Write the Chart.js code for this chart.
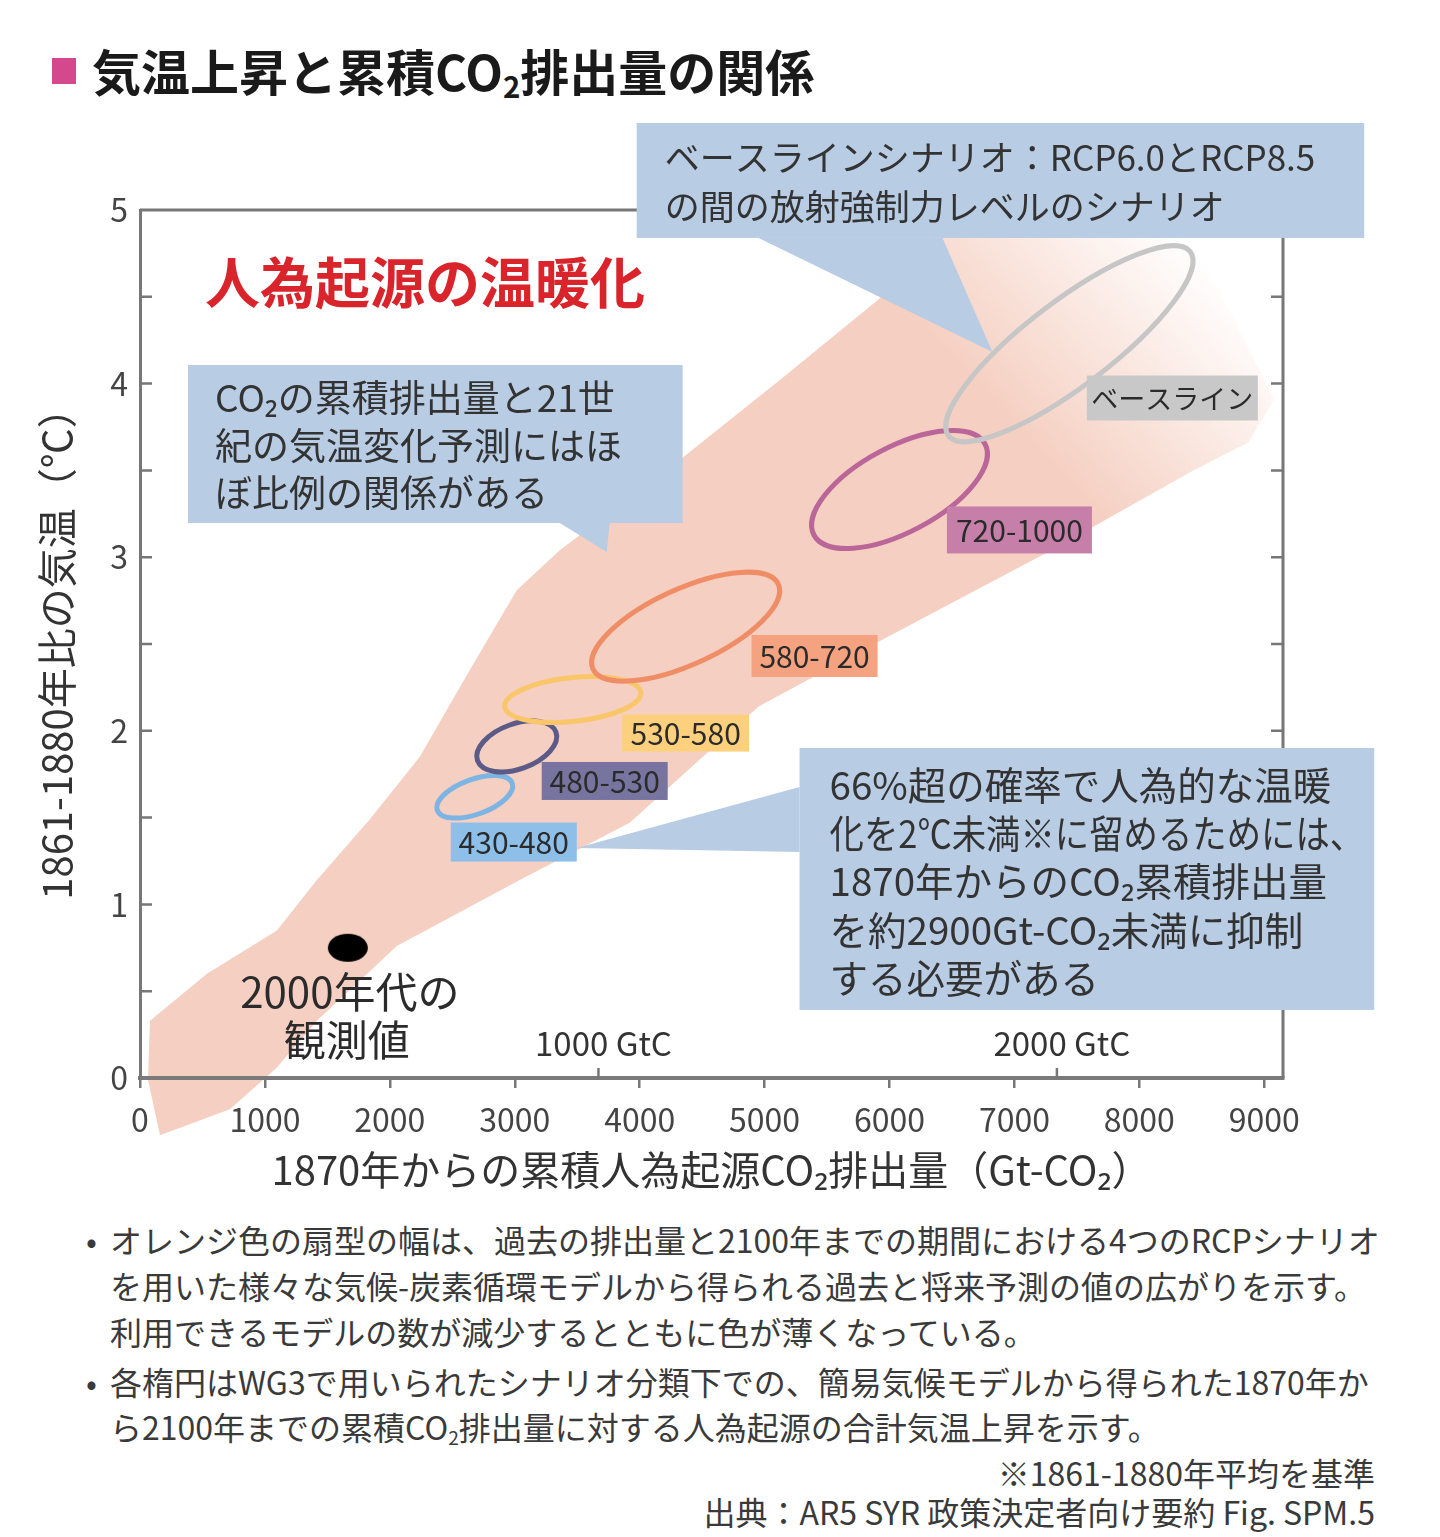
<!DOCTYPE html>
<html lang="ja">
<head>
<meta charset="UTF-8">
<title>気温上昇と累積CO2排出量の関係</title>
<script src="https://cdn.jsdelivr.net/npm/chart.js"></script>
<style>
  html, body { margin: 0; padding: 0; background: #fff; }
  body { width: 1440px; height: 1537px; position: relative; overflow: hidden;
         font-family: "Noto Sans CJK JP", "Noto Sans", sans-serif; color: #333; }
  #chart-wrap { position: absolute; left: 0; top: 0; width: 1440px; height: 1200px; }
  .title-mark { position: absolute; left: 52px; top: 58px; width: 24px; height: 26px; background: #d6488e; }
  .title { position: absolute; left: 92px; top: 44px; font-size: 49px; font-weight: bold; line-height: 52px; color: #1a1a1a; white-space: nowrap; }
  .note { position: absolute; font-size: 32px; line-height: 36px; color: #3a3a3a; white-space: nowrap; }
  sub { font-size: 0.6em; vertical-align: -0.25em; line-height: 0; }
</style>
</head>
<body>
  <div class="title-mark"></div>
  <div class="title">気温上昇と累積CO<sub>2</sub>排出量の関係</div>

  <div id="chart-wrap"><canvas id="chart"></canvas></div>

  <!-- 注記 -->
  <div class="note" style="left:86px;top:1221px">•</div>
  <div class="note" style="left:110px;top:1221px">オレンジ色の扇型の幅は、過去の排出量と2100年までの期間における4つのRCPシナリオ</div>
  <div class="note" style="left:110px;top:1267px">を用いた様々な気候-炭素循環モデルから得られる過去と将来予測の値の広がりを示す。</div>
  <div class="note" style="left:110px;top:1313px">利用できるモデルの数が減少するとともに色が薄くなっている。</div>
  <div class="note" style="left:86px;top:1363px">•</div>
  <div class="note" style="left:110px;top:1363px">各楕円はWG3で用いられたシナリオ分類下での、簡易気候モデルから得られた1870年か</div>
  <div class="note" style="left:110px;top:1408px">ら2100年までの累積CO<sub>2</sub>排出量に対する人為起源の合計気温上昇を示す。</div>
  <div class="note" style="right:65px;top:1454px">※1861-1880年平均を基準</div>
  <div class="note" style="right:65px;top:1493px">出典：AR5 SYR 政策決定者向け要約 Fig. SPM.5</div>

<script>
// 軸の目盛り
const co2Ticks = [0, 1000, 2000, 3000, 4000, 5000, 6000, 7000, 8000, 9000];
const tempTicks = [0, 1, 2, 3, 4, 5];
const gtcValues = [3670, 7340];
const gtcLabels = ['1000 GtC', '2000 GtC'];

// オレンジ色の扇型（外周、Gt-CO2 と ℃）
const plumeX = [160, 64, 80, 536, 1096, 1416, 1840, 2240, 2640, 3016, 3360, 3840, 4320, 5120, 5904, 6408, 6680,
                8320, 9080, 8872, 8432, 7296, 5904, 4952, 3920, 3040, 2056, 1416, 1096, 720];
const plumeY = [-0.33, -0.01, 0.33, 0.60, 0.85, 1.14, 1.49, 1.85, 2.35, 2.81, 3.04, 3.30, 3.56, 4.02, 4.48, 4.83, 4.99,
                4.99, 3.91, 3.66, 3.50, 3.04, 2.51, 2.14, 1.47, 1.14, 0.76, 0.33, 0.06, -0.18];

// 2000年代の観測値
const observedX = [1664];
const observedY = [0.75];

// シナリオ別の楕円（中心と長軸方向の広がり）
const scenarioNames = ['430-480', '480-530', '530-580', '580-720', '720-1000', 'ベースライン'];
const scenarioCO2Mid = [2680, 3016, 3464, 4368, 6080, 7440];
const scenarioTempMid = [1.62, 1.91, 2.18, 2.60, 3.39, 4.23];
const scenarioCO2Half = [300, 314, 544, 742, 685, 968];
const scenarioTempHalf = [0.078, 0.082, 0.041, 0.244, 0.262, 0.53];

const FONT = '"Noto Sans CJK JP", "Noto Sans", sans-serif';
Chart.defaults.font.family = FONT;

const ellipseStyle = {
  ratio: [0.44, 0.54, 0.32, 0.37, 0.44, 0.28],
  stroke: ['#7cb4e3', '#5c5b88', '#fac66a', '#ef8e66', '#bb6699', '#c6c6c6'],
  fill: ['#8dbfe9', '#77759f', '#fdd07e', '#f4a27f', '#c67fa8', '#c8c8c8'],
  tagAt: [[2992, 1.359], [3720, 1.711], [4368, 1.987], [5400, 2.431], [7040, 3.157], [8264, 3.917]],
  tagSize: [[126, 39], [126, 38], [127, 37], [126, 42], [145, 47], [171, 45]]
};

const plumeStyle = { rgb: '245, 207, 193', fadeFrom: [7300, 3.5], fadeTo: [8800, 4.5] };

const callouts = [
  { box: [3976, 9800, 4.839, 5.501], pointer: [[4952, 4.839], [6424, 4.839], [6824, 4.182]],
    lines: ['ベースラインシナリオ：RCP6.0とRCP8.5', 'の間の放射強制力レベルのシナリオ'],
    size: 35, pad: 28, first: 35, step: 49 },
  { box: [384, 4344, 3.197, 4.107], pointer: [[3360, 3.197], [3760, 3.197], [3736, 3.03]],
    lines: ['CO₂の累積排出量と21世', '紀の気温変化予測にはほ', 'ぼ比例の関係がある'],
    size: 37, pad: 27, first: 33, step: 47.5 },
  { box: [5280, 9880, 0.392, 1.901], pointer: [[5280, 1.676], [5280, 1.302], [3496, 1.325]],
    lines: ['66%超の確率で人為的な温暖', '化を2℃未満※に留めるためには、', '1870年からのCO₂累積排出量', 'を約2900Gt-CO₂未満に抑制', 'する必要がある'],
    size: 38.5, pad: 30, first: 37, step: 48.3 }
];

const notes = [
  { text: '人為起源の温暖化', at: [520, 4.585], font: 'bold 55px ' + FONT, color: '#d9242b', align: 'left' },
  { text: '2000年代の', at: [1680, 0.495], font: '42px ' + FONT, color: '#2b2b2b', align: 'center' },
  { text: '観測値', at: [1656, 0.219], font: '42px ' + FONT, color: '#2b2b2b', align: 'center' }
];

// 観測値の黒い楕円
const dot = document.createElement('canvas');
dot.width = 42; dot.height = 30;
const dctx = dot.getContext('2d');
dctx.fillStyle = '#000';
dctx.beginPath();
dctx.ellipse(21, 15, 20, 14, 0, 0, Math.PI * 2);
dctx.fill();

function toPx(chart, x, y) {
  return [chart.scales.x.getPixelForValue(x), chart.scales.y.getPixelForValue(y)];
}

const figurePlugin = {
  id: 'figure',
  beforeDatasetsDraw(chart) {
    const ctx = chart.ctx;
    const pts = chart.getDatasetMeta(0).data;
    ctx.save();
    ctx.beginPath();
    pts.forEach((p, i) => i ? ctx.lineTo(p.x, p.y) : ctx.moveTo(p.x, p.y));
    ctx.closePath();
    const [x0, y0] = toPx(chart, ...plumeStyle.fadeFrom);
    const [x1, y1] = toPx(chart, ...plumeStyle.fadeTo);
    const g = ctx.createLinearGradient(x0, y0, x1, y1);
    g.addColorStop(0, `rgba(${plumeStyle.rgb}, 1)`);
    g.addColorStop(1, `rgba(${plumeStyle.rgb}, 0)`);
    ctx.fillStyle = g;
    ctx.fill();
    ctx.restore();
  },
  afterDatasetsDraw(chart) {
    const ctx = chart.ctx;
    ctx.save();
    scenarioNames.forEach((name, i) => {
      const [cx, cy] = toPx(chart, scenarioCO2Mid[i], scenarioTempMid[i]);
      const [ex, ey] = toPx(chart, scenarioCO2Mid[i] + scenarioCO2Half[i], scenarioTempMid[i] + scenarioTempHalf[i]);
      const a = Math.hypot(ex - cx, ey - cy);
      ctx.beginPath();
      ctx.ellipse(cx, cy, a, a * ellipseStyle.ratio[i], Math.atan2(ey - cy, ex - cx), 0, Math.PI * 2);
      ctx.strokeStyle = ellipseStyle.stroke[i];
      ctx.lineWidth = 5;
      ctx.stroke();
    });
    ctx.restore();
  },
  afterDraw(chart) {
    const ctx = chart.ctx;
    const {left, right, top, bottom} = chart.chartArea;
    const ys = chart.scales.y;
    ctx.save();

    // 上と右の枠、内向きの目盛り
    ctx.strokeStyle = '#777';
    ctx.lineWidth = 3;
    ctx.beginPath();
    ctx.moveTo(left, top); ctx.lineTo(right, top); ctx.lineTo(right, bottom);
    ctx.stroke();
    ctx.lineWidth = 2.5;
    for (let v = ys.min + 0.5; v < ys.max; v += 0.5) {
      const y = ys.getPixelForValue(v);
      ctx.beginPath();
      ctx.moveTo(left, y); ctx.lineTo(left + 12, y);
      ctx.moveTo(right, y); ctx.lineTo(right - 12, y);
      ctx.stroke();
    }

    // GtC 目盛り
    ctx.font = '33px ' + FONT;
    ctx.fillStyle = '#333';
    ctx.textAlign = 'center';
    ctx.textBaseline = 'middle';
    gtcValues.forEach((v, i) => {
      const x = chart.scales.x.getPixelForValue(v);
      ctx.beginPath();
      ctx.moveTo(x, bottom); ctx.lineTo(x, bottom - 10);
      ctx.stroke();
      ctx.fillText(gtcLabels[i], x + 5, ys.getPixelForValue(0.2));
    });

    // シナリオのラベル
    scenarioNames.forEach((name, i) => {
      const [cx, cy] = toPx(chart, ...ellipseStyle.tagAt[i]);
      const [w, h] = ellipseStyle.tagSize[i];
      ctx.fillStyle = ellipseStyle.fill[i];
      ctx.fillRect(cx - w / 2, cy - h / 2, w, h);
      ctx.fillStyle = '#2b2b2b';
      ctx.font = (i === 5 ? '27px ' : '30px ') + FONT;
      ctx.textAlign = 'center';
      ctx.fillText(name, cx, cy + 1, w - 8);
    });

    // 吹き出し
    callouts.forEach(c => {
      const [bx0, by0] = toPx(chart, c.box[0], c.box[3]);
      const [bx1, by1] = toPx(chart, c.box[1], c.box[2]);
      ctx.fillStyle = '#b8cce4';
      ctx.fillRect(bx0, by0, bx1 - bx0, by1 - by0);
      ctx.beginPath();
      c.pointer.forEach((p, i) => {
        const [x, y] = toPx(chart, p[0], p[1]);
        i ? ctx.lineTo(x, y) : ctx.moveTo(x, y);
      });
      ctx.closePath();
      ctx.fill();
      ctx.fillStyle = '#333';
      ctx.font = c.size + 'px ' + FONT;
      ctx.textAlign = 'left';
      c.lines.forEach((t, i) => ctx.fillText(t, bx0 + c.pad, by0 + c.first + i * c.step, bx1 - bx0 - c.pad - 10));
    });

    // 図中の文字
    notes.forEach(n => {
      const [x, y] = toPx(chart, ...n.at);
      ctx.font = n.font;
      ctx.fillStyle = n.color;
      ctx.textAlign = n.align;
      ctx.fillText(n.text, x, y);
    });
    ctx.restore();
  }
};

new Chart(document.getElementById('chart'), {
  type: 'scatter',
  data: {
    datasets: [
      {
        label: 'plume',
        data: plumeX.map((x, i) => ({x: x, y: plumeY[i]})),
        showLine: false,
        pointRadius: 0,
        clip: false
      },
      {
        label: '2000年代の観測値',
        data: observedX.map((x, i) => ({x: x, y: observedY[i]})),
        pointStyle: dot,
        pointRadius: 20,
        clip: false
      }
    ]
  },
  options: {
    responsive: true,
    maintainAspectRatio: false,
    animation: false,
    events: [],
    layout: { padding: { left: 0, right: 157, top: 210, bottom: 2 } },
    plugins: { legend: { display: false }, tooltip: { enabled: false } },
    scales: {
      x: {
        type: 'linear',
        min: 0,
        max: 9150,
        afterFit: s => { s.height = 120; },
        afterBuildTicks: s => { s.ticks = co2Ticks.map(v => ({value: v})); },
        grid: { drawOnChartArea: false, drawTicks: true, tickLength: 10, color: '#777', lineWidth: 2.5 },
        border: { color: '#7a7a7a', width: 4, z: 1 },
        ticks: { font: { size: 32 }, color: '#444', padding: 13, z: 1, maxRotation: 0, autoSkip: false,
                 callback: v => String(v) },
        title: {
          display: true,
          text: '1870年からの累積人為起源CO₂排出量（Gt-CO₂）',
          font: { size: 40 },
          color: '#333',
          padding: { top: 0, bottom: 4 }
        }
      },
      y: {
        min: 0,
        max: 5,
        afterFit: s => { s.width = 140; },
        afterBuildTicks: s => { s.ticks = tempTicks.map(v => ({value: v})); },
        grid: { drawOnChartArea: false, drawTicks: false },
        border: { color: '#777', width: 3, z: 1 },
        ticks: { font: { size: 32 }, color: '#444', padding: 12, z: 1 },
        title: {
          display: true,
          text: '1861-1880年比の気温（℃）',
          font: { size: 40 },
          color: '#333',
          padding: { top: 33, bottom: 0 }
        }
      }
    }
  },
  plugins: [figurePlugin]
});
</script>
</body>
</html>
